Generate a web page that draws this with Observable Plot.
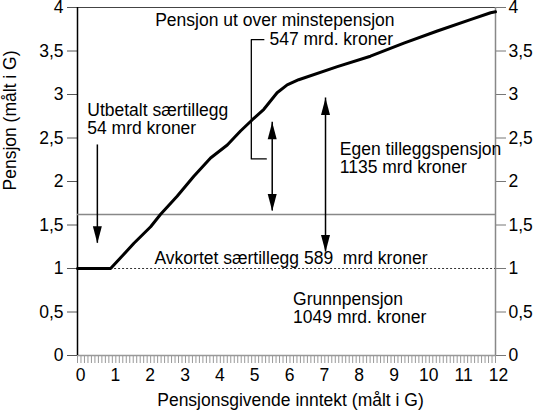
<!DOCTYPE html>
<html><head><meta charset="utf-8">
<script src="https://cdn.jsdelivr.net/npm/d3@7"></script>
<script src="https://cdn.jsdelivr.net/npm/@observablehq/plot@0.6"></script>
<style>body{margin:0;background:#fff}</style>
</head><body><div id="chart"></div>
<script>
// Pension curve (both in G)
const incomeG  = [0, 0.95, 1.23, 1.62, 2.10, 2.38, 2.86, 3.34, 3.82, 4.30, 4.68, 5.02, 5.35, 5.73, 6.02, 6.35, 7.46, 8.41, 9.37, 10.33, 11.28, 11.86, 12];
const pensionG = [1, 1.00, 1.12, 1.29, 1.48, 1.62, 1.83, 2.06, 2.27, 2.42, 2.58, 2.71, 2.83, 3.02, 3.11, 3.17, 3.32, 3.44, 3.59, 3.73, 3.86, 3.94, 3.95];

const xTicks = d3.range(0, 13);
const xMinorTicks = d3.range(0, 121).map(i => i / 10);
const yTicks = [0, 0.5, 1, 1.5, 2, 2.5, 3, 3.5, 4];

const minPensionLevel = 1.62;   // grey line
const basicLevel = 1;           // dotted line
const basicLineStart = 0.95;

const noteText = ["Pensjon ut over minstepensjon", "547 mrd. kroner", "Utbetalt særtillegg\n54 mrd kroner",
  "Egen tilleggspensjon\n1135 mrd kroner", "Avkortet særtillegg 589 \u00a0mrd kroner", "Grunnpensjon\n1049 mrd. kroner"];
const noteX = [2.23, 5.51, 0.28, 7.53, 2.21, 6.19];
const noteY = [3.85, 3.63, 2.715, 2.265, 1.12, 0.54];

// arrows: x, top, bottom, head at top?
const arrowX      = [0.57, 5.59, 7.12];
const arrowTop    = [2.42, 2.68, 2.96];
const arrowBottom = [1.29, 1.66, 1.19];
const arrowHeadTop = [false, true, true];

// bracket for "547 mrd. kroner"
const bracketX = [5.35, 4.99, 4.99, 5.42];
const bracketY = [3.63, 3.63, 2.26, 2.26];

const curve = incomeG.map((x, i) => ({x, y: pensionG[i]}));
const notes = noteText.map((t, i) => ({t, x: noteX[i], y: noteY[i]}));
const arrows = arrowX.map((x, i) => ({x, y1: arrowTop[i], y2: arrowBottom[i], up: arrowHeadTop[i]}));
const bracket = bracketX.map((x, i) => ({x, y: bracketY[i]}));

const headDown = {draw(ctx) { ctx.moveTo(0, 0); ctx.lineTo(-4.5, -17); ctx.lineTo(4.5, -17); ctx.closePath(); }};
const headUp = {draw(ctx) { ctx.moveTo(0, 0); ctx.lineTo(-4.5, 17); ctx.lineTo(4.5, 17); ctx.closePath(); }};
const comma = d => String(d).replace(".", ",");

const chart = Plot.plot({
  width: 539, height: 412,
  marginLeft: 77, marginRight: 44, marginTop: 7, marginBottom: 57,
  style: {fontSize: "17.5px", fontFamily: "'Liberation Sans', Arial, sans-serif", background: "white", color: "black", overflow: "visible"},
  x: {domain: [0, 12]},
  y: {domain: [0, 4]},
  marks: [
    Plot.axisX(xMinorTicks, {tickSize: 8, stroke: "#999", tickFormat: () => "", label: null}),
    Plot.axisX(xTicks, {tickSize: 0, tickPadding: 13, dx: 3, fontSize: 17.5, label: null}),
    Plot.axisY(yTicks, {anchor: "left", tickSize: 10, tickPadding: 4, stroke: "#555", tickFormat: comma, fontSize: 17.5, label: null}),
    Plot.axisY(yTicks, {anchor: "right", tickSize: 10, tickPadding: 3, stroke: "#777", tickFormat: comma, fontSize: 17.5, label: null}),
    Plot.ruleY([0], {stroke: "#999", strokeWidth: 1.5}),
    Plot.ruleY([4], {stroke: "#444", strokeWidth: 1}),
    Plot.ruleX([12], {stroke: "#888", strokeWidth: 1.5}),
    Plot.ruleX([0], {stroke: "black", strokeWidth: 1.5}),
    Plot.ruleY([minPensionLevel], {x1: 0, x2: 12, stroke: "#888", strokeWidth: 1.5}),
    Plot.ruleY([basicLevel], {x1: basicLineStart, x2: 12, stroke: "black", strokeWidth: 0.8, strokeDasharray: "2,2"}),
    Plot.line(curve, {x: "x", y: "y", stroke: "black", strokeWidth: 3, strokeLinejoin: "round"}),
    Plot.line(bracket, {x: "x", y: "y", stroke: "black", strokeWidth: 1.3}),
    Plot.ruleX(arrows, {x: "x", y1: "y1", y2: "y2", stroke: "black", strokeWidth: 1.5}),
    Plot.dot(arrows, {x: "x", y: "y2", symbol: headDown, fill: "black", stroke: "none"}),
    Plot.dot(arrows.filter(d => d.up), {x: "x", y: "y1", symbol: headUp, fill: "black", stroke: "none"}),
    Plot.text(notes, {x: "x", y: "y", text: "t", textAnchor: "start", lineAnchor: "middle", lineHeight: 1.03, fontSize: 17.5, fill: "black"}),
    Plot.text(["Pensjonsgivende inntekt (målt i G)"], {frameAnchor: "bottom", dy: 45, dx: 4, lineAnchor: "middle", fontSize: 17.5, fill: "black"}),
    Plot.text(["Pensjon (målt i G)"], {frameAnchor: "left", rotate: -90, dx: -67, dy: 9, lineAnchor: "middle", fontSize: 17.5, fill: "black"})
  ]
});
document.getElementById("chart").append(chart);
</script>
</body></html>
